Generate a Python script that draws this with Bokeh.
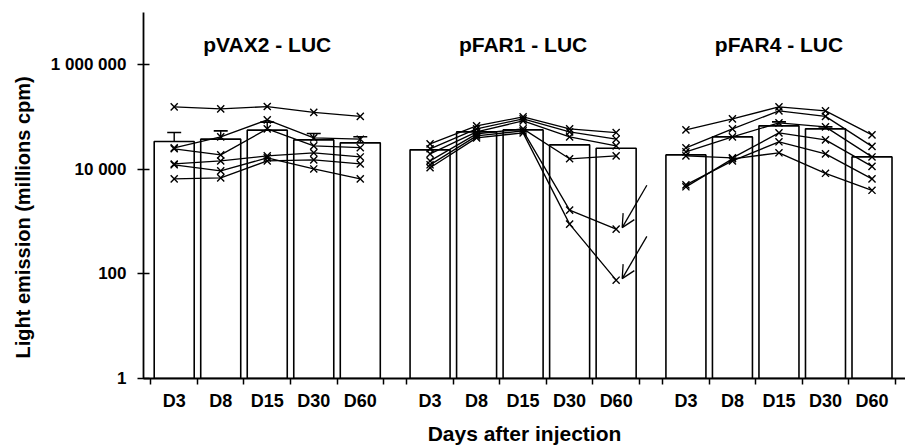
from bokeh.plotting import figure
from bokeh.models import Range1d, FixedTicker, Title, Arrow, OpenHead
from bokeh.core.properties import value
from bokeh.embed import file_html
from bokeh.resources import INLINE

# ---------------- data ----------------
GROUPS = ["pVAX2 - LUC", "pFAR1 - LUC", "pFAR4 - LUC"]
DAYS = ["D3", "D8", "D15", "D30", "D60"]

BAR_PVAX2 = [34000, 37800, 56200, 36600, 32100]
BAR_PFAR1 = [23600, 52100, 56900, 29400, 25400]
BAR_PFAR4 = [18900, 41800, 67900, 59500, 17300]

NAN = float("nan")
ERR_PVAX2 = [50600, 54500, 80000, 48400, 42000]
ERR_PFAR1 = [NAN, NAN, NAN, NAN, NAN]
ERR_PFAR4 = [NAN, NAN, 80900, 65000, NAN]

MICE_PVAX2 = [
    [156700, 143500, 158800, 123000, 103100],
    [25800, 41800, 88400, 40000, 37800],
    [24700, 18900, 59500, 28100, 26000],
    [12700, 14500, 18100, 20700, 17300],
    [6580, 6880, 14500, 15200, 12700],
    [12200, 9360, 16600, 10200, 6580],
]
MICE_PFAR1 = [
    [30700, 67900, 100900, 59500, 50500],
    [24700, 59500, 92400, 52100, 37800],
    [19800, 52100, 84600, 41800, 28100],
    [14500, 47700, 59500, 15900, 18100],
    [12200, 43700, 54500, 1660, 719],
    [10700, 40000, 49900, 896, 76],
]
MICE_PFAR4 = [
    [56900, 92400, 156700, 131400, 45700],
    [25800, 59500, 131400, 103100, 27500],
    [21600, 41800, 77500, 64900, 17300],
    [18100, 16600, 49900, 36600, 11400],
    [5050, 14500, 33600, 19800, 6580],
    [4630, 15900, 20700, 8390, 3970],
]
ARROW_MICE = [4, 5]  # pFAR1 mice marked with arrows at D60

Y_TICKS = [1, 100, 10000, 1000000]
Y_TICK_LABELS = ["1", "100", "10 000", "1 000 000"]

BARS = [BAR_PVAX2, BAR_PFAR1, BAR_PFAR4]
ERRS = [ERR_PVAX2, ERR_PFAR1, ERR_PFAR4]
MICE = [MICE_PVAX2, MICE_PFAR1, MICE_PFAR4]

# ---------------- layout constants ----------------
FONT = "Liberation Sans"
GROUP_STEP = 11      # half-slot units between group starts
SLOT = 2             # one day slot = 2 units
BAR_W = 1.72
CAP_W = 0.3
TITLE_Y = 2.4e6


def xpos(g, d):
    return g * GROUP_STEP + SLOT * d + 1


p = figure(width=905, height=447,
           x_range=Range1d(-0.32, 32.44), y_range=Range1d(1, 1e7),
           y_axis_type="log", output_backend="svg", toolbar_location=None,
           min_border_left=142, min_border_right=0, min_border_top=12,
           min_border_bottom=69)
p.outline_line_color = None
p.grid.visible = False
p.background_fill_color = "white"
p.border_fill_color = "white"

for g in range(3):
    xs = [xpos(g, d) for d in range(5)]
    # bars
    p.vbar(x=xs, top=BARS[g], bottom=1, width=BAR_W, fill_color="white",
           line_color="black", line_width=1.6)
    # error bars
    err_x = [x for x, e in zip(xs, ERRS[g]) if e == e]
    err_b = [b for b, e in zip(BARS[g], ERRS[g]) if e == e]
    err_t = [e for e in ERRS[g] if e == e]
    if err_x:
        p.segment(x0=err_x, y0=err_b, x1=err_x, y1=err_t, line_color="black", line_width=1.4)
        p.segment(x0=[x - CAP_W for x in err_x], y0=err_t, x1=[x + CAP_W for x in err_x],
                  y1=err_t, line_color="black", line_width=1.6)
    # individual animals
    for mouse in MICE[g]:
        p.line(xs, mouse, line_color="black", line_width=1.3)
        p.scatter(xs, mouse, marker="x", size=10, line_color="black", line_width=1.4)

# arrows on the two pFAR1 animals that dropped
for m in ARROW_MICE:
    xe = xpos(1, 4)
    ye = MICE_PFAR1[m][4]
    p.add_layout(Arrow(end=OpenHead(size=13, line_width=1.3, line_color="black"),
                       x_start=xe + 1.32, y_start=ye * 6.9,
                       x_end=xe + 0.26, y_end=ye * 1.07,
                       line_color="black", line_width=1.3))

# group titles
p.text(x=[g * GROUP_STEP + 5 for g in range(3)], y=[TITLE_Y] * 3, text=GROUPS,
       text_font=value(FONT), text_font_style="bold", text_font_size="21px",
       text_align="center", text_baseline="middle", text_color="black")

# x axis
centers = [xpos(g, d) for g in range(3) for d in range(5)]
bounds = [g * GROUP_STEP + SLOT * d for g in range(3) for d in range(6)]
xa = p.xaxis[0]
xa.ticker = FixedTicker(ticks=centers, minor_ticks=bounds)
xa.major_label_overrides = {c: DAYS[i % 5] for i, c in enumerate(centers)}
xa.major_tick_line_color = None
xa.major_tick_out = 5
xa.major_tick_in = 0
xa.minor_tick_out = 6
xa.minor_tick_in = 0
xa.minor_tick_line_color = "black"
xa.minor_tick_line_width = 1.5
xa.axis_line_width = 1.8
xa.axis_line_color = "black"
xa.major_label_standoff = 6
xa.major_label_text_font = FONT
xa.major_label_text_font_size = "18px"
xa.major_label_text_font_style = "bold"
xa.major_label_text_color = "black"
xa.axis_label = "Days after injection"
xa.axis_label_text_font = FONT
xa.axis_label_text_font_size = "21px"
xa.axis_label_text_font_style = "bold"
xa.axis_label_text_color = "black"
xa.axis_label_standoff = 8

# y axis
ya = p.yaxis[0]
ya.ticker = FixedTicker(ticks=Y_TICKS)
ya.major_label_overrides = {t: l for t, l in zip(Y_TICKS, Y_TICK_LABELS)}
ya.major_tick_in = 6
ya.major_tick_out = 6
ya.major_tick_line_width = 1.5
ya.major_tick_line_color = "black"
ya.minor_tick_line_color = None
ya.axis_line_width = 1.8
ya.axis_line_color = "black"
ya.major_label_standoff = 11
ya.major_label_text_font = FONT
ya.major_label_text_font_size = "17px"
ya.major_label_text_font_style = "bold"
ya.major_label_text_color = "black"

p.add_layout(Title(text="Light emission (millions cpm)", align="left", offset=20,
                   vertical_align="top", standoff=23, text_font=FONT,
                   text_font_size="20px", text_font_style="bold",
                   text_color="black"), "left")

open("out.html", "w").write(file_html(p, INLINE))
